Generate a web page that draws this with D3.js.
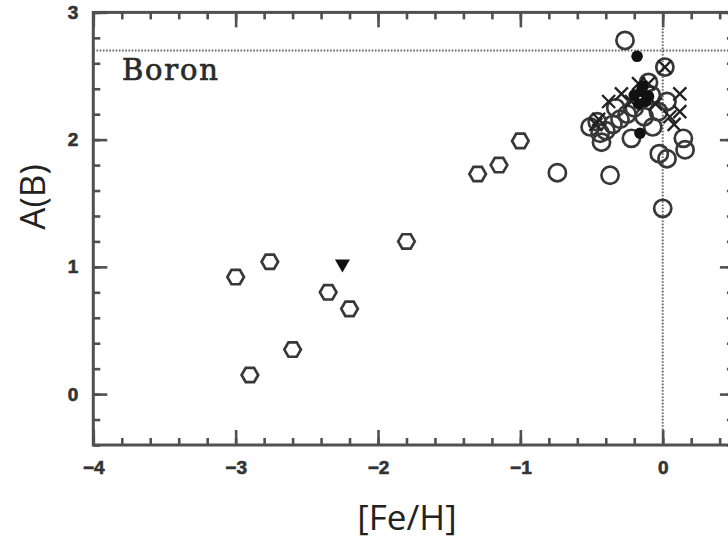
<!DOCTYPE html>
<html>
<head>
<meta charset="utf-8">
<script src="https://cdn.jsdelivr.net/npm/d3@7"></script>
<style>
  html, body { margin: 0; padding: 0; background: #fff; }
  svg { display: block; }
</style>
</head>
<body>
<svg id="chart" width="728" height="540"></svg>
<script>
// Boron abundance A(B) versus metallicity [Fe/H]

// Metal-poor halo stars (open hexagons)
const haloFeH = [-3.0, -2.76, -2.9, -2.6, -2.35, -2.2, -1.8, -1.3, -1.15, -1.0];
const haloAB  = [0.92, 1.04, 0.15, 0.35, 0.80, 0.67, 1.20, 1.73, 1.80, 1.99];

// Disk stars (open circles)
const diskFeH = [-0.74, -0.37, 0.0, -0.265, 0.015, -0.51, -0.46, -0.40, -0.43, -0.35, -0.30, -0.22,
                 -0.25, -0.13, -0.07, -0.03, 0.03, -0.08, -0.10, 0.145, 0.157, -0.024, 0.03,
                 -0.33, -0.20, -0.44];
const diskAB  = [1.74, 1.72, 1.46, 2.78, 2.57, 2.10, 2.14, 2.07, 1.98, 2.12, 2.16, 2.01,
                 2.20, 2.18, 2.10, 2.22, 2.30, 2.35, 2.45, 2.01, 1.92, 1.89, 1.85,
                 2.25, 2.25, 2.05];

// Stars marked with crosses
const crossFeH = [-0.38, -0.29, -0.17, 0.12, 0.12, -0.45, 0.015, 0.05, -0.22, -0.05, -0.47, 0.08, -0.1];
const crossAB  = [2.30, 2.36, 2.44, 2.36, 2.22, 2.16, 2.57, 2.18, 2.30, 2.28, 2.12, 2.12, 2.44];

// Stars marked with filled dots
const dotFeH = [-0.18, -0.16, -0.20, -0.15, -0.12, -0.10, -0.17, -0.14];
const dotAB  = [2.655, 2.05, 2.35, 2.38, 2.30, 2.34, 2.28, 2.42];

// Upper limit (filled downward triangle)
const limitFeH = [-2.25];
const limitAB  = [1.01];

// Axis ticks
const xMajor = [-4, -3, -2, -1, 0];
const yMajor = [0, 1, 2, 3];
const xMinor = d3.range(-4, 0.51, 0.2).map(v => +v.toFixed(1));
const yMinor = d3.range(-0.4, 3.01, 0.2).map(v => +v.toFixed(1));

// Reference levels: meteoritic boron and solar metallicity
const refAB = [2.7];
const refFeH = [0];

const svg = d3.select("#chart");
const frame = { left: 93.3, right: 733.9, top: 12.4, bottom: 445 };

const x = d3.scaleLinear().domain([-4, 0.5]).range([frame.left, frame.right]);
const y = d3.scaleLinear().domain([-0.4, 3]).range([frame.bottom, frame.top]);

const ink = "#383838";
const axisInk = "#505050";

// Dotted reference lines
svg.append("g").selectAll("line").data(refAB).join("line")
  .attr("x1", frame.left).attr("x2", frame.right)
  .attr("y1", d => y(d)).attr("y2", d => y(d))
  .attr("stroke", "#666").attr("stroke-width", 2).attr("stroke-dasharray", "1.6,1.6");
svg.append("g").selectAll("line").data(refFeH).join("line")
  .attr("x1", d => x(d)).attr("x2", d => x(d))
  .attr("y1", frame.top).attr("y2", frame.bottom)
  .attr("stroke", "#666").attr("stroke-width", 2).attr("stroke-dasharray", "1.6,1.6");

// Axes with inward ticks on all four sides
function styleAxis(g) {
  g.select(".domain").remove();
  g.selectAll(".tick line").attr("stroke", axisInk).attr("stroke-width", 2.6);
  g.selectAll(".tick text")
    .attr("fill", "#333")
    .attr("stroke", "#333").attr("stroke-width", 0.6)
    .style("font-family", "'Liberation Sans', Arial, sans-serif")
    .style("font-weight", "bold")
    .style("font-size", "19px");
}

svg.append("g").attr("transform", `translate(0,${frame.bottom})`)
  .call(d3.axisBottom(x).tickValues(xMinor).tickSizeInner(-7).tickSizeOuter(0).tickFormat(""))
  .call(styleAxis);
svg.append("g").attr("transform", `translate(0,${frame.bottom})`)
  .call(d3.axisBottom(x).tickValues(xMajor).tickSizeInner(-15).tickSizeOuter(0).tickPadding(16).tickFormat(d3.format("d")))
  .call(styleAxis);

svg.append("g").attr("transform", `translate(0,${frame.top})`)
  .call(d3.axisTop(x).tickValues(xMinor).tickSizeInner(-7).tickSizeOuter(0).tickFormat(""))
  .call(styleAxis);
svg.append("g").attr("transform", `translate(0,${frame.top})`)
  .call(d3.axisTop(x).tickValues(xMajor).tickSizeInner(-15).tickSizeOuter(0).tickFormat(""))
  .call(styleAxis);

svg.append("g").attr("transform", `translate(${frame.left},0)`)
  .call(d3.axisLeft(y).tickValues(yMinor).tickSizeInner(-7).tickSizeOuter(0).tickFormat(""))
  .call(styleAxis);
svg.append("g").attr("transform", `translate(${frame.left},0)`)
  .call(d3.axisLeft(y).tickValues(yMajor).tickSizeInner(-14).tickSizeOuter(0).tickPadding(15).tickFormat(d3.format("d")))
  .call(styleAxis);

svg.append("g").attr("transform", `translate(${frame.right},0)`)
  .call(d3.axisRight(y).tickValues(yMinor).tickSizeInner(-7).tickSizeOuter(0).tickFormat(""))
  .call(styleAxis);
svg.append("g").attr("transform", `translate(${frame.right},0)`)
  .call(d3.axisRight(y).tickValues(yMajor).tickSizeInner(-14).tickSizeOuter(0).tickFormat(""))
  .call(styleAxis);

// Plot frame
svg.append("rect")
  .attr("x", frame.left).attr("y", frame.top)
  .attr("width", frame.right - frame.left).attr("height", frame.bottom - frame.top)
  .attr("fill", "none").attr("stroke", axisInk).attr("stroke-width", 3);

// Marker shapes
const hexR = 8.3;
const hexPath = d3.line()(d3.range(6).map(i => [hexR * Math.cos(i * Math.PI / 3), hexR * Math.sin(i * Math.PI / 3)])) + "Z";
const triPath = "M-7.5,-6L7.5,-6L0,7Z";
const crossPath = "M-6.5,-6.5L6.5,6.5M-6.5,6.5L6.5,-6.5";

const zip = (a, b) => a.map((v, i) => [v, b[i]]);
const marks = svg.append("g");

marks.selectAll("path.halo").data(zip(haloFeH, haloAB)).join("path")
  .attr("class", "halo")
  .attr("d", hexPath)
  .attr("transform", d => `translate(${x(d[0])},${y(d[1])})`)
  .attr("fill", "none").attr("stroke", ink).attr("stroke-width", 2.7);

marks.selectAll("circle.disk").data(zip(diskFeH, diskAB)).join("circle")
  .attr("class", "disk")
  .attr("cx", d => x(d[0])).attr("cy", d => y(d[1])).attr("r", 8.6)
  .attr("fill", "none").attr("stroke", ink).attr("stroke-width", 2.7);

marks.selectAll("path.cross").data(zip(crossFeH, crossAB)).join("path")
  .attr("class", "cross")
  .attr("d", crossPath)
  .attr("transform", d => `translate(${x(d[0])},${y(d[1])})`)
  .attr("fill", "none").attr("stroke", "#222").attr("stroke-width", 2.3);

marks.selectAll("circle.dot").data(zip(dotFeH, dotAB)).join("circle")
  .attr("class", "dot")
  .attr("cx", d => x(d[0])).attr("cy", d => y(d[1])).attr("r", 5.8)
  .attr("fill", "#111");

marks.selectAll("path.limit").data(zip(limitFeH, limitAB)).join("path")
  .attr("class", "limit")
  .attr("d", triPath)
  .attr("transform", d => `translate(${x(d[0])},${y(d[1])})`)
  .attr("fill", "#111");

// Element label
svg.append("text")
  .attr("x", 122).attr("y", 80)
  .style("font-family", "'DejaVu Serif', serif")
  .style("font-size", "29px")
  .style("letter-spacing", "1.8px")
  .attr("fill", "#2a2a2a")
  .attr("stroke", "#2a2a2a").attr("stroke-width", 0.7)
  .text("Boron");

// Axis titles
svg.append("text")
  .attr("x", 407).attr("y", 530)
  .attr("text-anchor", "middle")
  .style("font-family", "'Open Sans', sans-serif")
  .style("font-size", "35px")
  .attr("fill", "#222")
  .text("[Fe/H]");

svg.append("text")
  .attr("transform", "translate(45,197) rotate(-90)")
  .attr("text-anchor", "middle")
  .style("font-family", "'Open Sans', sans-serif")
  .style("font-size", "35px")
  .attr("fill", "#222")
  .text("A(B)");
</script>
</body>
</html>
